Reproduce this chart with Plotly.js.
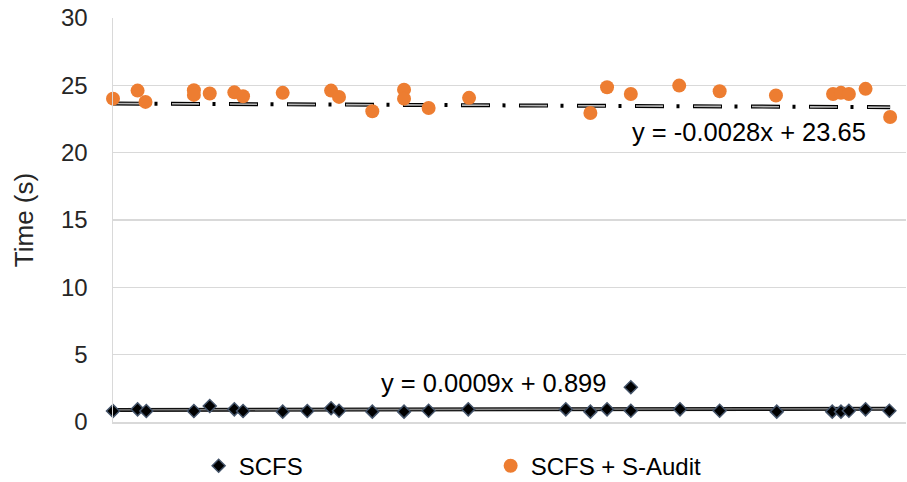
<!DOCTYPE html>
<html>
<head>
<meta charset="utf-8">
<script src="https://cdn.plot.ly/plotly-3.0.1.min.js"></script>
<style>html,body{margin:0;padding:0;background:#fff;}#chart{width:907px;height:482px;}</style>
</head>
<body>
<div id="chart"></div>
<script>
// SCFS series
const scfsX = [0, 3.1, 4.2, 10.2, 12.2, 15.3, 16.4, 21.4, 24.5, 27.5, 28.5, 32.7, 36.7, 39.8, 44.8, 57.1, 60.2, 62.3, 65.3, 65.3, 71.5, 76.5, 83.7, 90.7, 91.8, 92.8, 94.9, 97.9];
const scfsY = [0.82, 0.94, 0.82, 0.82, 1.19, 0.94, 0.82, 0.77, 0.82, 1.02, 0.84, 0.77, 0.77, 0.84, 0.94, 0.94, 0.77, 0.94, 2.58, 0.84, 0.94, 0.84, 0.77, 0.77, 0.77, 0.84, 0.94, 0.84];
// SCFS + S-Audit series
const auditX = [0, 3.1, 4.1, 10.2, 10.2, 12.2, 15.3, 16.4, 21.4, 27.5, 28.5, 32.7, 36.7, 36.7, 39.8, 44.9, 60.2, 62.3, 65.3, 71.4, 76.5, 83.6, 90.8, 91.8, 92.8, 94.9, 98.0];
const auditY = [24.01, 24.61, 23.77, 24.63, 24.29, 24.39, 24.48, 24.19, 24.44, 24.61, 24.14, 23.07, 24.68, 24.01, 23.32, 24.07, 22.95, 24.86, 24.36, 24.98, 24.56, 24.24, 24.36, 24.44, 24.36, 24.74, 22.65];
// Linear trendlines (from the chart's equations)
const scfsTrend = {slope: 0.0009, intercept: 0.899, label: 'y = 0.0009x + 0.899'};
const auditTrend = {slope: -0.0028, intercept: 23.65, label: 'y = -0.0028x + 23.65'};
const yTicks = [0, 5, 10, 15, 20, 25, 30];
const seriesNames = ['SCFS', 'SCFS + S-Audit'];

function trendLine(xs, t) {
  const x0 = Math.min(...xs), x1 = Math.max(...xs);
  return {x: [x0, x1], y: [t.slope * x0 + t.intercept, t.slope * x1 + t.intercept]};
}
const tA = trendLine(auditX, auditTrend);
const tS = trendLine(scfsX, scfsTrend);
const dashOuter = '29px,12.5px,3px,13.5px';
const dashInner = '0px,1px,27px,30px';

const traces = [
  {x: tA.x, y: tA.y, mode: 'lines', line: {color: '#000', width: 4, dash: dashOuter}, showlegend: false, hoverinfo: 'skip', cliponaxis: false},
  {x: tA.x, y: tA.y, mode: 'lines', line: {color: '#b5b5b5', width: 1.6, dash: dashInner}, showlegend: false, hoverinfo: 'skip', cliponaxis: false},
  {x: tS.x, y: tS.y, mode: 'lines', line: {color: '#111', width: 4}, showlegend: false, hoverinfo: 'skip', cliponaxis: false},
  {x: tS.x, y: tS.y, mode: 'lines', line: {color: '#8c8c8c', width: 1.4}, showlegend: false, hoverinfo: 'skip', cliponaxis: false},
  {x: scfsX, y: scfsY, name: seriesNames[0], mode: 'markers', type: 'scatter', cliponaxis: false,
   marker: {symbol: 'diamond', size: 10, color: '#000', line: {color: '#44546A', width: 1.5}}},
  {x: auditX, y: auditY, name: seriesNames[1], mode: 'markers', type: 'scatter', cliponaxis: false,
   marker: {symbol: 'circle', size: 14, color: '#ED7D31', line: {width: 0}}}
];

const font = {family: 'Liberation Sans, Arial, sans-serif', color: '#262626', size: 24};

const layout = {
  width: 907, height: 482,
  margin: {l: 113, r: 1, t: 18, b: 60, autoexpand: false},
  paper_bgcolor: '#fff', plot_bgcolor: '#fff',
  font: font,
  showlegend: true,
  legend: {orientation: 'h', x: 0.108, xanchor: 'left', y: 0.033, yanchor: 'middle', yref: 'container',
           entrywidth: 247, entrywidthmode: 'pixels', font: {size: 24, color: '#000'},
           itemwidth: 30, traceorder: 'normal'},
  xaxis: {range: [0, 100], showgrid: false, zeroline: false, showline: true, linecolor: '#d9d9d9', linewidth: 1.5,
          showticklabels: false, ticks: '', fixedrange: true},
  yaxis: {range: [0, 30], tickvals: yTicks, ticktext: yTicks.map(String), showgrid: true, gridcolor: '#d9d9d9', gridwidth: 1.5,
          zeroline: false, showline: true, linecolor: '#d9d9d9', linewidth: 1.5, ticks: '',
          ticklabelstandoff: 19, tickfont: {size: 24, color: '#262626'},
          title: {text: 'Time (s)', font: {size: 26, color: '#262626'}, standoff: 20}},
  annotations: [
    {xref: 'paper', yref: 'paper', x: 0.802, y: 0.719, text: auditTrend.label, showarrow: false,
     font: {size: 25.5, color: '#000'}, xanchor: 'center', yanchor: 'middle'},
    {xref: 'paper', yref: 'paper', x: 0.480, y: 0.0965, text: scfsTrend.label, showarrow: false,
     font: {size: 25.5, color: '#000'}, xanchor: 'center', yanchor: 'middle'}
  ]
};

Plotly.newPlot('chart', traces, layout, {displayModeBar: false, staticPlot: true});
</script>
</body>
</html>
